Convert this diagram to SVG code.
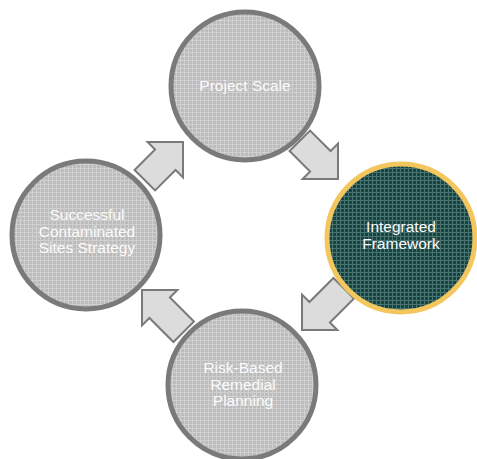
<svg xmlns="http://www.w3.org/2000/svg" width="477" height="459" viewBox="0 0 477 459">
<defs>
<pattern id="pg" width="4" height="4" patternUnits="userSpaceOnUse">
<rect width="4" height="4" fill="#bcbcbc"/>
<rect width="4" height="1" fill="#d0d0d0"/>
<rect width="1" height="4" fill="#d0d0d0"/>
</pattern>
<pattern id="pt" width="4" height="4" patternUnits="userSpaceOnUse">
<rect width="4" height="4" fill="#174343"/>
<rect width="4" height="1" fill="#4a7470"/>
<rect width="1" height="4" fill="#4a7470"/>
</pattern>
<path id="arr" d="M0,0 L-25,-25 L-25,-14.5 L-54,-14.5 L-54,14.5 L-25,14.5 L-25,25 Z"/>
<path id="arrL" d="M0,0 L-25,-25 L-25,-14.5 L-59,-14.5 L-59,14.5 L-25,14.5 L-25,25 Z"/>
</defs>
<style>
.g{fill:url(#pg);stroke:#7a7a7a;stroke-width:5}
.t{fill:url(#pt);stroke:#f3c75e;stroke-width:5}
.lbl{font-family:"Liberation Sans",Arial,sans-serif;font-size:15.5px;fill:#fbfbfb;text-anchor:middle}
.a{fill:#dcdcdc;stroke:#7a7a7a;stroke-width:2;stroke-linejoin:miter}
</style>
<g id="connectors">
<use href="#arr" class="a" transform="translate(183,142) rotate(-45)"/>
<use href="#arr" class="a" transform="translate(338,179) rotate(45)"/>
<use href="#arrL" class="a" transform="translate(302,330) rotate(135)"/>
<use href="#arrL" class="a" transform="translate(142,290) rotate(-135)"/>
</g>
<g id="project-scale">
<circle class="g" cx="245" cy="86" r="74"/>
<text class="lbl" x="245" y="91">Project Scale</text>
</g>
<g id="integrated-framework">
<circle class="t" cx="401" cy="238" r="74"/>
<text class="lbl" x="401" y="232">Integrated</text>
<text class="lbl" x="401" y="248.5">Framework</text>
</g>
<g id="risk-based">
<circle class="g" cx="242" cy="385" r="74"/>
<text class="lbl" x="243" y="373">Risk-Based</text>
<text class="lbl" x="243" y="389.5">Remedial</text>
<text class="lbl" x="243" y="406">Planning</text>
</g>
<g id="successful">
<circle class="g" cx="86" cy="235" r="74"/>
<text class="lbl" x="87" y="220">Successful</text>
<text class="lbl" x="87" y="236.5">Contaminated</text>
<text class="lbl" x="87" y="253">Sites Strategy</text>
</g>
</svg>
